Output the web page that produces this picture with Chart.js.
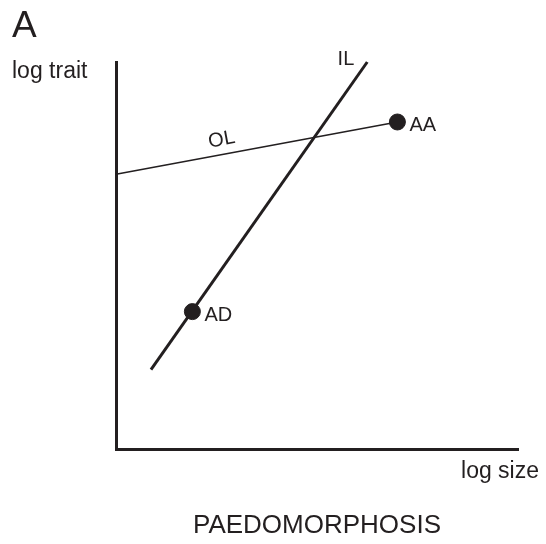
<!DOCTYPE html>
<html>
<head>
<meta charset="utf-8">
<title>Paedomorphosis</title>
<script src="https://cdn.jsdelivr.net/npm/chart.js@4/dist/chart.umd.min.js"></script>
<style>
  html, body { margin: 0; padding: 0; background: #fff; }
  #chart { display: block; }
</style>
</head>
<body>
<canvas id="chart" width="546" height="544"></canvas>
<script>
// ontogenetic line (OL) and interspecific line (IL), log size vs log trait
const olX = [0, 7]
const olY = [7.1, 8.45]
const ilX = [0.87, 6.25]
const ilY = [2.05, 10]

// descendant adult (AD), ancestral adult (AA)
const pointNames = ['AD', 'AA']
const pointX = [1.9, 7]
const pointY = [3.55, 8.45]

const panelLetter = 'A'
const xTitle = 'log size'
const yTitle = 'log trait'
const caption = 'PAEDOMORPHOSIS'

const ink = '#231f20'
const font = '"Liberation Sans", Arial, Helvetica, sans-serif'

const toPoints = (xs, ys) => xs.map((x, i) => ({ x: x, y: ys[i] }))

const textPlugin = {
    id: 'figureText',
    afterDraw: chart => {
        const ctx = chart.ctx
        const xs = chart.scales.x
        const ys = chart.scales.y
        const area = chart.chartArea
        ctx.save()
        ctx.fillStyle = ink
        ctx.textBaseline = 'alphabetic'

        ctx.font = `37px ${font}`
        ctx.textAlign = 'left'
        ctx.fillText(panelLetter, 12, 37)

        ctx.font = `23px ${font}`
        ctx.fillText(yTitle, 12, 78)
        ctx.textAlign = 'right'
        ctx.fillText(xTitle, 539, 478)

        ctx.font = `26px ${font}`
        ctx.textAlign = 'center'
        ctx.fillText(caption, (area.left + area.right) / 2, 533)

        // point labels
        ctx.font = `20px ${font}`
        ctx.textAlign = 'left'
        pointNames.forEach((name, i) => {
            const px = xs.getPixelForValue(pointX[i])
            const py = ys.getPixelForValue(pointY[i])
            ctx.fillText(name, px + 12, py + 9)
        })

        // IL label, left of the top end of the line
        const ilTopX = xs.getPixelForValue(ilX[1])
        const ilTopY = ys.getPixelForValue(ilY[1])
        ctx.textAlign = 'right'
        ctx.fillText('IL', ilTopX - 13, ilTopY + 3)

        // OL label, rotated along the line
        const x0 = xs.getPixelForValue(olX[0]), y0 = ys.getPixelForValue(olY[0])
        const x1 = xs.getPixelForValue(olX[1]), y1 = ys.getPixelForValue(olY[1])
        const angle = Math.atan2(y1 - y0, x1 - x0)
        const t = 0.385
        ctx.translate(x0 + (x1 - x0) * t, y0 + (y1 - y0) * t)
        ctx.rotate(angle)
        ctx.textAlign = 'center'
        ctx.fillText('OL', 0, -9)
        ctx.restore()
    }
}

const axis = (min, max) => ({
    type: 'linear',
    min: min,
    max: max,
    grid: { display: false, drawTicks: false },
    ticks: { display: false },
    border: { display: true, width: 3, color: ink }
})

new Chart(document.getElementById('chart'), {
    type: 'scatter',
    data: {
        datasets: [
            {
                label: 'points',
                data: toPoints(pointX, pointY),
                backgroundColor: ink,
                borderColor: ink,
                pointRadius: 8,
                pointHoverRadius: 8,
                order: 0,
                clip: false
            },
            {
                label: 'IL',
                data: toPoints(ilX, ilY),
                showLine: true,
                borderColor: ink,
                borderWidth: 3,
                pointRadius: 0,
                order: 1,
                clip: false
            },
            {
                label: 'OL',
                data: toPoints(olX, olY),
                showLine: true,
                borderColor: ink,
                borderWidth: 1.5,
                pointRadius: 0,
                order: 2,
                clip: false
            }
        ]
    },
    options: {
        responsive: false,
        animation: false,
        layout: { padding: { left: 116, top: 62, right: 28, bottom: 95 } },
        plugins: { legend: { display: false }, tooltip: { enabled: false } },
        scales: { x: axis(0, 10), y: axis(0, 10) }
    },
    plugins: [textPlugin]
})
</script>
</body>
</html>
